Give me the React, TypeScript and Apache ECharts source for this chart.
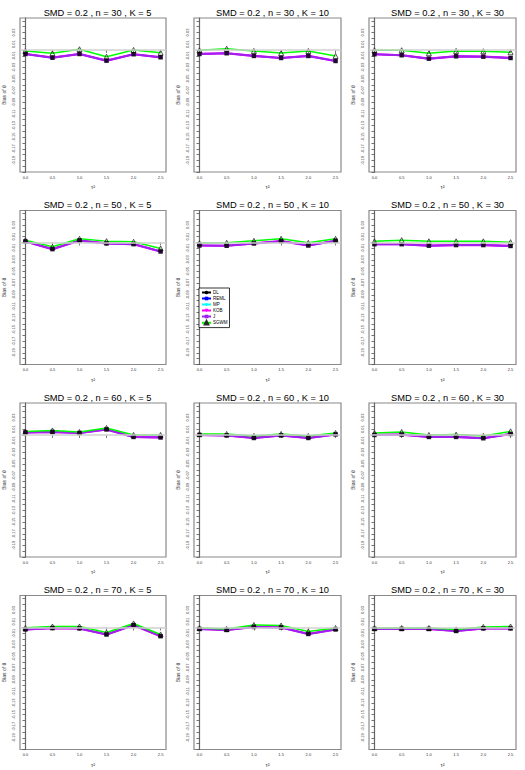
import React, { useEffect, useRef } from "react";
import * as echarts from "echarts";

const tau = [0, 0.5, 1.0, 1.5, 2.0, 2.5];
const nValues = [30, 50, 60, 70];
const kValues = [5, 10, 30];
const methodNames = ["DL", "REML", "MP", "KOB", "J", "SGWM"];
const yTickValues = [0.05, 0.04, 0.03, 0.02, 0.01, 0, -0.01, -0.02, -0.03, -0.04, -0.05, -0.06, -0.07, -0.08, -0.09, -0.1, -0.11, -0.12, -0.13, -0.14, -0.15, -0.16, -0.17, -0.18, -0.19, -0.2, -0.21];
const yLabelValues = [0.03, 0.01, -0.01, -0.03, -0.05, -0.07, -0.09, -0.11, -0.13, -0.15, -0.17, -0.19];

// bias of the DL / REML / MP / KOB / J estimators (overlapping), panels row-major
const lowerBias = [
  [-0.0069, -0.0133, -0.0069, -0.0184, -0.0074, -0.0126],
  [-0.0069, -0.0057, -0.0103, -0.0138, -0.0103, -0.019],
  [-0.0074, -0.0091, -0.015, -0.0109, -0.0115, -0.0138],
  [0.0017, -0.0115, 0.0034, -0.0017, -0.0029, -0.0155],
  [-0.0052, -0.0057, -0.0017, 0.0023, -0.0052, 0.0029],
  [-0.003, -0.003, -0.0055, -0.0045, -0.0045, -0.006],
  [0.0043, 0.0052, 0.0034, 0.0095, -0.0034, -0.0043],
  [0.0, -0.0009, -0.0052, -0.0009, -0.0052, 0.0009],
  [0.0, 0.0006, -0.0034, -0.0034, -0.0057, 0.0017],
  [-0.0034, -0.0011, -0.0017, -0.0121, 0.004, -0.015],
  [-0.0026, -0.0043, 0.0009, 0.0, -0.0112, -0.0034],
  [-0.0026, -0.0026, -0.0026, -0.006, -0.0017, -0.0017],
];

// bias of the SGWM estimator
const sgwmBias = [
  [-0.0017, -0.0057, 0.0012, -0.0116, 0.0, -0.0047],
  [-0.0005, 0.0022, -0.0017, -0.0052, -0.0017, -0.0103],
  [-0.0005, -0.0005, -0.0057, -0.0017, -0.0022, -0.004],
  [0.004, -0.0075, 0.0063, 0.0023, 0.0011, -0.0103],
  [-0.0011, -0.0006, 0.0029, 0.0063, -0.0006, 0.0063],
  [0.002, 0.004, 0.002, 0.002, 0.002, 0.0005],
  [0.006, 0.0078, 0.0052, 0.0121, 0.0, 0.0],
  [0.0017, 0.0017, -0.0017, 0.0017, -0.0017, 0.0034],
  [0.0034, 0.0052, 0.0, 0.0006, -0.0017, 0.0063],
  [-0.0006, 0.0017, 0.0017, -0.0086, 0.0069, -0.0121],
  [-0.0009, -0.0026, 0.0043, 0.0034, -0.0069, -0.0009],
  [-0.0009, -0.0009, -0.0009, -0.0034, 0.0009, 0.0017],
];

const methodColors: Record<string, string> = {
  DL: "#000000",
  REML: "#0000FF",
  MP: "#00FFFF",
  KOB: "#FF00FF",
  J: "#A020F0",
  SGWM: "#00FF00",
};

const FONT = "Liberation Sans, Arial, sans-serif";

export default function App() {
  const ref = useRef<HTMLDivElement>(null);
  useEffect(() => {
    if (!ref.current) return;
    const chart = echarts.init(ref.current, undefined, { renderer: "svg" });
    const grids: any[] = [];
    const xAxes: any[] = [];
    const yAxes: any[] = [];
    const titles: any[] = [];
    const series: any[] = [];
    const boxW = 147;
    const boxH = 154;
    nValues.forEach((n, r) => {
      kValues.forEach((k, c) => {
        const idx = r * 3 + c;
        const left = 19 + 175 * c;
        const top = 18 + 192.5 * r;
        grids.push({
          left,
          top,
          width: boxW,
          height: boxH,
          show: true,
          borderColor: "#8a8a8a",
          borderWidth: 1.2,
          backgroundColor: "#ffffff",
        });
        titles.push({
          text: `SMD = 0.2 , n = ${n} , K = ${k}`,
          left: left + boxW / 2,
          top: top - 15,
          textAlign: "center",
          textStyle: { fontFamily: FONT, fontSize: 9.3, fontWeight: "normal", color: "#000" },
        });
        xAxes.push({
          gridIndex: idx,
          type: "value",
          min: -0.1,
          max: 2.6,
          splitLine: { show: false },
          axisLine: { show: false },
          axisTick: { show: true, length: 3, lineStyle: { color: "#555", width: 0.8 }, customValues: tau },
          axisLabel: {
            show: true,
            fontSize: 4,
            fontFamily: FONT,
            color: "#333",
            margin: 3,
            customValues: tau,
            formatter: (v: number) => v.toFixed(1),
          },
          name: "τ²",
          nameLocation: "middle",
          nameGap: 12,
          nameTextStyle: { fontSize: 5.5, fontFamily: FONT, color: "#333" },
        });
        yAxes.push({
          gridIndex: idx,
          type: "value",
          min: -0.21,
          max: 0.055,
          splitLine: { show: false },
          axisLine: { show: true, lineStyle: { color: "#666", width: 1.2 } },
          axisTick: { show: true, length: 3, lineStyle: { color: "#555", width: 0.8 }, customValues: yTickValues },
          axisLabel: {
            show: true,
            rotate: 90,
            fontSize: 4,
            fontFamily: FONT,
            color: "#333",
            margin: 5,
            customValues: yLabelValues,
            formatter: (v: number) => v.toFixed(2),
          },
          name: "Bias of θ",
          nameLocation: "middle",
          nameGap: 14,
          nameTextStyle: { fontSize: 5, fontFamily: FONT, color: "#333" },
        });
        const lower = lowerBias[idx];
        const sg = sgwmBias[idx];
        const mk = (vals: number[]) => tau.map((t, i) => [t, vals[i]]);
        // zero reference line
        series.push({
          type: "line",
          name: "zero",
          xAxisIndex: idx,
          yAxisIndex: idx,
          data: [],
          silent: true,
          markLine: {
            silent: true,
            symbol: "none",
            label: { show: false },
            lineStyle: { color: "#d0d0d0", width: 1.5, type: "solid" },
            data: [{ yAxis: 0 }],
          },
        });
        const lowerDefs: any[] = [
          { name: "DL", symbol: "circle", size: 2.5, width: 1 },
          { name: "REML", symbol: "rect", size: 3, width: 1.2 },
          { name: "MP", symbol: "diamond", size: 3, width: 1.2 },
          { name: "KOB", symbol: "triangle", rotate: 180, size: 4, width: 2.2 },
          { name: "J", symbol: "rect", size: 3.5, width: 2 },
        ];
        lowerDefs.forEach((d) => {
          series.push({
            type: "line",
            name: d.name,
            xAxisIndex: idx,
            yAxisIndex: idx,
            data: mk(lower),
            symbol: d.symbol,
            symbolSize: d.size,
            symbolRotate: d.rotate || 0,
            showAllSymbol: true,
            color: methodColors[d.name],
            lineStyle: { color: methodColors[d.name], width: d.width },
            itemStyle: { color: methodColors[d.name] },
          });
        });
        series.push({
          type: "line",
          name: "SGWM",
          xAxisIndex: idx,
          yAxisIndex: idx,
          data: mk(sg),
          symbol: "triangle",
          symbolSize: 5,
          showAllSymbol: true,
          color: methodColors.SGWM,
          lineStyle: { color: methodColors.SGWM, width: 1.5 },
          itemStyle: { color: "rgba(255,255,255,0)", borderColor: "#2a2a2a", borderWidth: 0.8 },
          z: 3,
        });
        series.push({
          type: "scatter",
          name: "DLpoints",
          xAxisIndex: idx,
          yAxisIndex: idx,
          data: mk(lower),
          symbol: "rect",
          symbolSize: 4.5,
          itemStyle: { color: "#000" },
          z: 4,
        });
      });
    });

    chart.setOption({
      animation: false,
      backgroundColor: "#ffffff",
      title: titles,
      grid: grids,
      xAxis: xAxes,
      yAxis: yAxes,
      legend: {
        data: methodNames,
        orient: "vertical",
        left: 199,
        top: 288,
        backgroundColor: "#ffffff",
        borderColor: "#000",
        borderWidth: 0.8,
        borderRadius: 0,
        padding: [2, 2, 2, 2],
        itemGap: 1,
        itemWidth: 9,
        itemHeight: 4.5,
        textStyle: { fontSize: 4.5, fontFamily: FONT, color: "#000", padding: [0, 0, 0, -3] },
        selectedMode: false,
      },
      series,
    });
    return () => chart.dispose();
  }, []);
  return (
    <div
      ref={ref}
      style={{ position: "fixed", left: 0, top: 0, width: 525, height: 770, background: "#fff" }}
    />
  );
}
